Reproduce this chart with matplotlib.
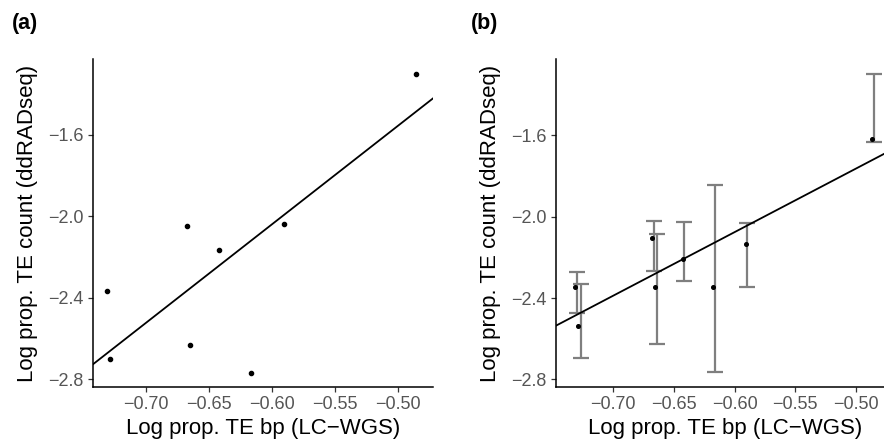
import numpy as np
import matplotlib
matplotlib.use("Agg")
import matplotlib.pyplot as plt

plt.rcParams['font.family'] = ['Liberation Sans', 'DejaVu Sans']

# LC-WGS log proportion of TE bp per sample (shared x values)
te_bp = [-0.7306, -0.7283, -0.6671, -0.6647, -0.6419, -0.6168, -0.5902, -0.4859]

# (a) log proportion of TE count, single estimate per sample
te_count = [-2.365, -2.699, -2.050, -2.632, -2.165, -2.768, -2.039, -1.302]
fit_a = (0.864, 4.84)  # intercept, slope

# (b) mean estimates with interval bounds
te_bp_b = [-0.7310, -0.7288, -0.6679, -0.6652, -0.6426, -0.6174, -0.5905, -0.4868]
te_count_b = [-2.347, -2.536, -2.104, -2.344, -2.206, -2.344, -2.133, -1.616]
err_bp = [-0.7294, -0.7266, -0.6663, -0.6640, -0.6413, -0.6163, -0.5900, -0.4852]
err_lo = [-2.472, -2.694, -2.265, -2.626, -2.316, -2.764, -2.344, -1.634]
err_hi = [-2.271, -2.331, -2.019, -2.084, -2.024, -1.846, -2.033, -1.296]
fit_b = (-0.198, 3.13)

x_ticks = [-0.70, -0.65, -0.60, -0.55, -0.50]
y_ticks = [-1.6, -2.0, -2.4, -2.8]

x_title = "Log prop. TE bp (LC\u2212WGS)"
y_title = "Log prop. TE count (ddRADseq)"

W, H = 884, 445
fig = plt.figure(figsize=(W / 100, H / 100), dpi=100)


def px_axes(left, right, top, bottom):
    return fig.add_axes([left / W, 1 - bottom / H, (right - left) / W, (bottom - top) / H])


def style(ax, xlim, ylim):
    ax.set_xlim(*xlim)
    ax.set_ylim(*ylim)
    for s in ['top', 'right']:
        ax.spines[s].set_visible(False)
    for s in ['left', 'bottom']:
        ax.spines[s].set_linewidth(1.1)
        ax.spines[s].set_color('black')
    ax.set_xticks(x_ticks)
    ax.set_yticks(y_ticks)
    ax.set_xticklabels([f"{v:.2f}".replace('-', '\u2212') for v in x_ticks])
    ax.set_yticklabels([f"{v:.1f}".replace('-', '\u2212') for v in y_ticks])
    ax.tick_params(length=3.5, width=0.9, color='#333333', labelcolor='#555555',
                   labelsize=13, pad=3.5)
    ax.set_xlabel(x_title, fontsize=16, labelpad=3)
    ax.set_ylabel(y_title, fontsize=16, labelpad=7)


# panel (a)
ax_a = px_axes(93.3, 433.3, 59.5, 386.7)
style(ax_a, (-0.7415, -0.4722), (-2.836, -1.232))
xs = np.array(ax_a.get_xlim())
ax_a.plot(xs, fit_a[0] + fit_a[1] * xs, color='black', lw=1.3, zorder=2)
ax_a.plot(te_bp, te_count, 'o', color='black', ms=3, zorder=3)

# panel (b)
ax_b = px_axes(556, 895, 59.5, 386.7)
style(ax_b, (-0.7469, -0.4680), (-2.836, -1.227))
lo = np.array(err_lo)
hi = np.array(err_hi)
mid = (lo + hi) / 2
ax_b.errorbar(err_bp, mid, yerr=[mid - lo, hi - mid], fmt='none', ecolor='#7f7f7f',
              elinewidth=1.6, capsize=5.5, capthick=1.6, zorder=1)
ax_b.plot(te_bp_b, te_count_b, 'o', color='black', ms=2.6, zorder=3)
xs = np.array(ax_b.get_xlim())
ax_b.plot(xs, fit_b[0] + fit_b[1] * xs, color='black', lw=1.3, zorder=2)

fig.text(12 / W, 1 - 23 / H, "(a)", fontsize=15.5, fontweight='bold', va='center')
fig.text(470.5 / W, 1 - 23 / H, "(b)", fontsize=15.5, fontweight='bold', va='center')

fig.savefig("out.png", dpi=100)
